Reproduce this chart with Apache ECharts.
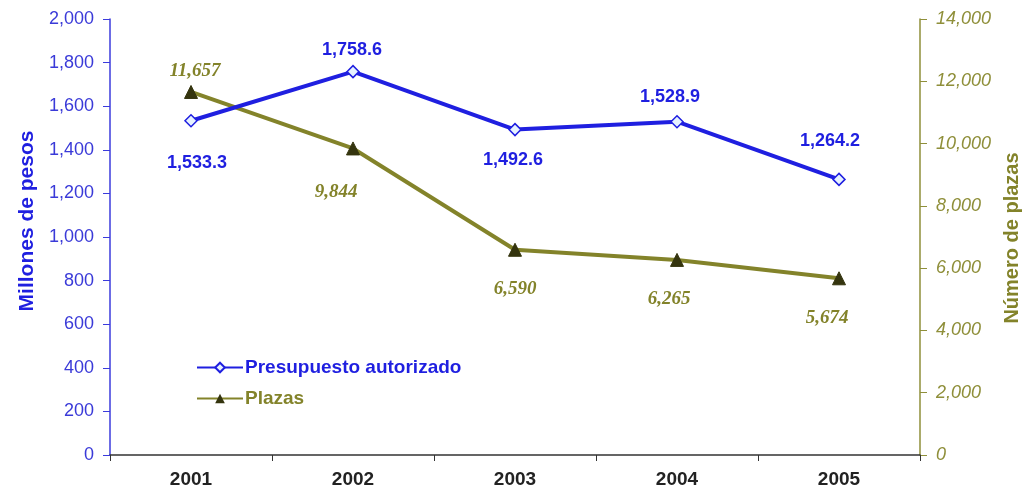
<!DOCTYPE html>
<html><head><meta charset="utf-8">
<script src="https://cdn.jsdelivr.net/npm/echarts@6/dist/echarts.min.js"></script>
<style>html,body{margin:0;padding:0;background:#fff}#c{width:1028px;height:495px}</style>
</head><body><div id="c"></div>
<script>
const years = ['2001','2002','2003','2004','2005'];
const presupuesto = [1533.3, 1758.6, 1492.6, 1528.9, 1264.2];
const plazas = [11657, 9844, 6590, 6265, 5674];
const leftTicks = [0, 2000, 200];
const rightTicks = [0, 14000, 2000];
const leftName = 'Millones de pesos';
const rightName = 'Número de plazas';

const blue = '#1f1fe0';
const blueAxis = '#3a3ad8';
const olive = '#83832a';
const oliveAxis = '#8f8f3a';
const sans = 'Liberation Sans, Arial, sans-serif';
const fmt = (v, d) => v.toLocaleString('en-US', {minimumFractionDigits: d, maximumFractionDigits: d});

const blueOff = [[6,42],[-1,-22],[-2,30],[-7,-25],[-9,-38]];
const oliveOff = [[4,-21],[-17,44],[0,39],[-8,39],[-12,40]];

const chart = echarts.init(document.getElementById('c'));
chart.setOption({
  animation: false,
  grid: {left: 110, right: 108, top: 19, bottom: 40},
  graphic: [
    {type: 'text', x: 27, y: 221, rotation: Math.PI / 2,
     style: {text: leftName, fill: blue, font: 'bold 21px ' + sans, align: 'center', verticalAlign: 'middle'}},
    {type: 'text', x: 1012, y: 238, rotation: Math.PI / 2,
     style: {text: rightName, fill: olive, font: 'bold 20px ' + sans, align: 'center', verticalAlign: 'middle'}}
  ],
  legend: {
    orient: 'vertical', left: 191, top: 353, itemGap: 12, itemWidth: 46, itemHeight: 12,
    data: [
      {name: 'Presupuesto autorizado', textStyle: {color: blue}},
      {name: 'Plazas', textStyle: {color: olive}}
    ],
    textStyle: {fontFamily: sans, fontWeight: 'bold', fontSize: 19, padding: [0,0,0,-3]}
  },
  xAxis: {
    type: 'category', data: years, boundaryGap: true,
    axisLine: {lineStyle: {color: '#333', width: 1.5}},
    axisTick: {show: true, length: 6, inside: false, lineStyle: {color: '#333'}},
    axisLabel: {color: '#222', fontWeight: 'bold', fontSize: 19, fontFamily: sans, margin: 15}
  },
  yAxis: [
    {
      type: 'value', min: leftTicks[0], max: leftTicks[1], interval: leftTicks[2],
      axisLine: {show: true, lineStyle: {color: '#3b3bdc', width: 1.5}},
      axisTick: {show: true, length: 7, lineStyle: {color: '#3b3bdc'}},
      splitLine: {show: false},
      axisLabel: {color: blueAxis, fontSize: 18, fontFamily: sans, margin: 16,
        formatter: v => fmt(v, 0)}
    },
    {
      type: 'value', min: rightTicks[0], max: rightTicks[1], interval: rightTicks[2], position: 'right',
      axisLine: {show: true, lineStyle: {color: oliveAxis, width: 1.5}},
      axisTick: {show: true, length: 7, lineStyle: {color: oliveAxis}},
      splitLine: {show: false},
      axisLabel: {color: oliveAxis, fontSize: 18, fontStyle: 'italic', fontFamily: sans, margin: 16,
        formatter: v => fmt(v, 0)}
    }
  ],
  series: [
    {
      name: 'Presupuesto autorizado', type: 'line', yAxisIndex: 0,
      data: presupuesto.map((v, i) => ({value: v, label: {offset: blueOff[i]}})),
      symbol: 'diamond', symbolSize: 12,
      lineStyle: {color: blue, width: 4},
      itemStyle: {color: '#e6f2ff', borderColor: blue, borderWidth: 1.5},
      label: {show: true, position: 'inside', color: blue, fontWeight: 'bold', fontSize: 18,
        fontFamily: sans, formatter: p => fmt(p.value, 1)},
      z: 3
    },
    {
      name: 'Plazas', type: 'line', yAxisIndex: 1,
      data: plazas.map((v, i) => ({value: v, label: {offset: oliveOff[i]}})),
      symbol: 'triangle', symbolSize: 13,
      lineStyle: {color: olive, width: 4},
      itemStyle: {color: '#34340e', borderColor: '#34340e'},
      label: {show: true, position: 'inside', color: olive, fontWeight: 'bold', fontStyle: 'italic', fontSize: 19,
        fontFamily: 'Liberation Serif, Times New Roman, serif', formatter: p => fmt(p.value, 0)},
      z: 2
    }
  ]
});
</script></body></html>
